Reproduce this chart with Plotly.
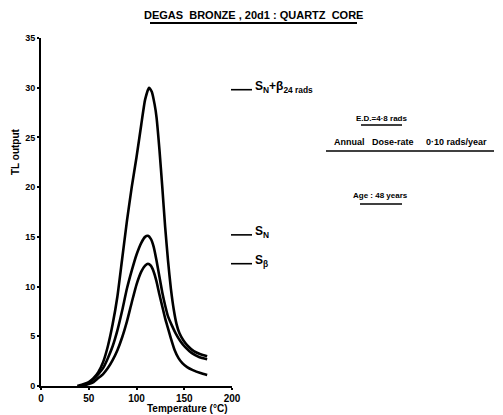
import plotly.graph_objects as go

# Glow curves: temperature (deg C) and TL output for each measurement
temp_nb = [38, 45, 50, 55, 60, 65, 70, 75, 80, 85, 90, 95, 100, 105, 109, 113,
           116, 119, 121, 124, 127, 130, 133, 136, 139, 142, 145, 149, 154, 160, 167, 174]
tl_nb = [0, 0.2, 0.4, 0.8, 1.4, 2.4, 4.0, 6.2, 9.0, 12.8, 16.6, 20.0, 23.0, 26.3, 28.8, 30.0,
         29.6, 28.3, 27.0, 23.8, 20.0, 16.0, 12.6, 9.8, 7.7, 6.2, 5.3, 4.6, 4.0, 3.5, 3.2, 3.0]

temp_n = [40, 45, 50, 55, 60, 65, 70, 75, 80, 85, 90, 95, 100, 105, 109, 112,
          115, 118, 121, 124, 127, 130, 133, 137, 141, 146, 151, 158, 166, 174]
tl_n = [0, 0.1, 0.3, 0.7, 1.2, 1.8, 2.8, 4.0, 5.6, 7.6, 9.8, 11.6, 13.2, 14.4, 15.0, 15.1,
        14.8, 14.0, 12.6, 11.0, 9.4, 8.1, 7.0, 6.1, 5.3, 4.5, 3.9, 3.3, 2.9, 2.7]

temp_b = [42, 50, 55, 60, 65, 70, 75, 80, 85, 90, 95, 100, 105, 109, 112,
          115, 118, 121, 124, 127, 130, 133, 136, 140, 144, 148, 153, 159, 167, 174]
tl_b = [0, 0.2, 0.4, 0.8, 1.2, 1.8, 2.6, 3.6, 4.9, 6.5, 8.4, 10.2, 11.5, 12.1, 12.3,
        12.1, 11.5, 10.5, 9.2, 8.0, 6.8, 5.8, 4.8, 3.6, 2.8, 2.3, 1.9, 1.6, 1.3, 1.1]

curve_labels = ["S<sub>N</sub>+β<sub>24 rads</sub>", "S<sub>N</sub>", "S<sub>β</sub>"]
label_levels = [29.8, 15.2, 12.3]

x_ticks = [0, 50, 100, 150, 200]
y_ticks = [0, 5, 10, 15, 20, 25, 30, 35]

W, H = 503, 415
L, R, T, B = 41, 271, 38, 29
PW, PH = W - L - R, H - T - B

FONT = "Liberation Sans, Arial, sans-serif"


def bold(size):
    return dict(family=FONT, size=size, color="black", weight="bold")


def px(x):
    return (x - L) / PW


def py(y):
    return (H - B - y) / PH


fig = go.Figure()
for tx, ty in [(temp_nb, tl_nb), (temp_n, tl_n), (temp_b, tl_b)]:
    fig.add_trace(go.Scatter(x=tx, y=ty, mode="lines",
                             line=dict(color="black", width=2.6, shape="spline", smoothing=0.5),
                             showlegend=False, hoverinfo="skip"))

shapes = []
annotations = []

# leader lines and curve labels
for lab, lev in zip(curve_labels, label_levels):
    shapes.append(dict(type="line", xref="paper", yref="y", x0=px(231), x1=px(252),
                       y0=lev, y1=lev, line=dict(color="black", width=1.6)))
    annotations.append(dict(xref="paper", yref="y", x=px(253), y=lev + 0.3, text=lab,
                            showarrow=False, xanchor="left", yanchor="middle",
                            font=bold(12)))

# title
annotations.append(dict(xref="paper", yref="paper", x=px(253), y=py(15),
                        text="DEGAS  BRONZE , 20d1 : QUARTZ  CORE",
                        showarrow=False, xanchor="center", yanchor="middle",
                        font=bold(11)))
shapes.append(dict(type="line", xref="paper", yref="paper", x0=px(150), x1=px(357),
                   y0=py(23), y1=py(23), line=dict(color="black", width=1.8)))

# side notes
notes = [("E.D.=4·8 rads", 381, 118, 361, 402, 125, 8),
         ("Annual   Dose-rate     0·10 rads/year", 410, 142, 326, 494, 151, 9),
         ("Age : 48 years", 380, 196, 360, 402, 204, 8)]
for txt, cx, cy, u0, u1, uy, fs in notes:
    annotations.append(dict(xref="paper", yref="paper", x=px(cx), y=py(cy), text=txt,
                            showarrow=False, xanchor="center", yanchor="middle",
                            font=bold(fs)))
    shapes.append(dict(type="line", xref="paper", yref="paper", x0=px(u0), x1=px(u1),
                       y0=py(uy), y1=py(uy), line=dict(color="black", width=1.4)))

# axis titles
annotations.append(dict(xref="paper", yref="paper", x=px(187), y=py(408),
                        text="Temperature (°C)", showarrow=False,
                        xanchor="center", yanchor="middle", font=bold(10)))
annotations.append(dict(xref="paper", yref="paper", x=px(15), y=py(152),
                        text="TL output", showarrow=False, textangle=-90,
                        xanchor="center", yanchor="middle", font=bold(10)))

fig.update_layout(
    width=W, height=H,
    margin=dict(l=L, r=R, t=T, b=B, pad=0),
    paper_bgcolor="white", plot_bgcolor="white",
    shapes=shapes, annotations=annotations,
    font=dict(family=FONT, size=9, color="black"),
)
fig.update_xaxes(range=[0, 200], tickvals=x_ticks,
                 showgrid=False, zeroline=False, showline=True, linecolor="black", linewidth=2,
                 ticks="outside", ticklen=2, tickwidth=1.5, tickcolor="black",
                 tickfont=bold(10))
fig.update_yaxes(range=[0, 35], tickvals=y_ticks,
                 showgrid=False, zeroline=False, showline=True, linecolor="black", linewidth=2,
                 ticks="outside", ticklen=2, tickwidth=1.5, tickcolor="black",
                 tickfont=bold(9))

fig.write_html("out.html")
